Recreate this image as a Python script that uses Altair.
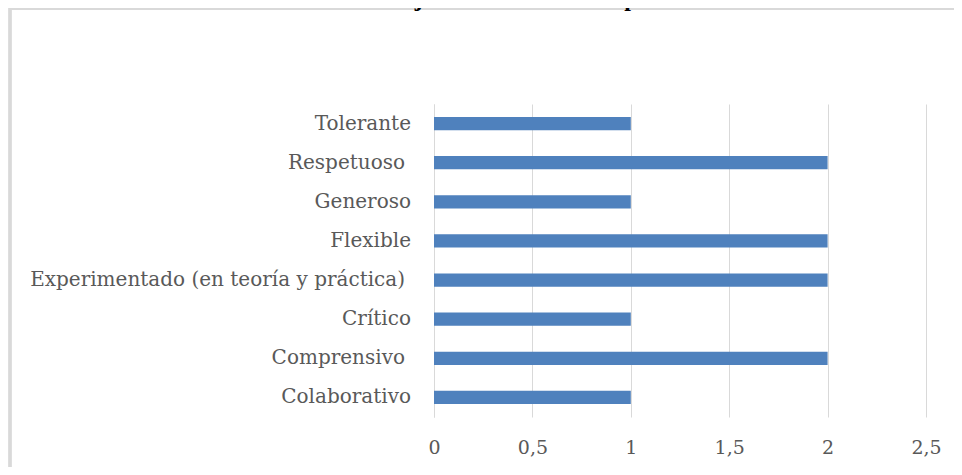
import altair as alt
import pandas as pd

categories = [
    "Tolerante",
    "Respetuoso ",
    "Generoso",
    "Flexible",
    "Experimentado (en teoría y práctica) ",
    "Crítico",
    "Comprensivo ",
    "Colaborativo",
]
values = [1, 2, 1, 2, 2, 1, 2, 1]
x_ticks = [0, 0.5, 1, 1.5, 2, 2.5]
title_text = "Gráfica 2. Adjetivos identificados por SBT"

df = pd.DataFrame({"adjetivo": categories, "valor": values})

label_font = "DejaVu Serif"
grey = "#d9d9d9"
text_grey = "#595959"

y_enc = alt.Y(
    "adjetivo:N",
    sort=categories,
    scale=alt.Scale(paddingInner=0.66, paddingOuter=0.33),
    axis=alt.Axis(
        title=None,
        domain=True,
        domainColor=grey,
        domainWidth=1,
        ticks=False,
        grid=False,
        labels=False,
    ),
)

bars = alt.Chart(df).mark_bar(color="#4f81bd").encode(
    x=alt.X(
        "valor:Q",
        scale=alt.Scale(domain=[0, 2.5], nice=False),
        axis=alt.Axis(
            values=x_ticks,
            title=None,
            grid=True,
            gridColor=grey,
            gridWidth=1,
            domain=False,
            ticks=False,
            labelFont=label_font,
            labelFontSize=19,
            labelColor=text_grey,
            labelPadding=21,
            labelFlush=False,
            labelExpr="replace(format(datum.value, '~g'), '.', ',')",
        ),
    ),
    y=y_enc,
)

trailing = "lastindexof(datum.adjetivo, ' ') == length(datum.adjetivo) - 1"


def label_layer(test, xpos):
    return (
        alt.Chart(df)
        .transform_filter(test)
        .mark_text(
            font=label_font,
            fontSize=20,
            color=text_grey,
            align="right",
            baseline="middle",
        )
        .encode(
            y=alt.Y("adjetivo:N", sort=categories),
            x=alt.value(xpos),
            text="adjetivo:N",
        )
    )


labels_plain = label_layer("!(" + trailing + ")", -23)
labels_space = label_layer(trailing, -29)

box = alt.Chart(df).mark_rect(
    fill="transparent", stroke=grey, strokeWidth=2.5
).encode(
    x=alt.value(-424),
    x2=alt.value(560),
    y=alt.value(-95.5),
    y2=alt.value(420),
)

title = alt.Chart(pd.DataFrame({"t": [title_text]})).mark_text(
    font="Liberation Serif",
    fontSize=24,
    fontWeight="bold",
    color="black",
    align="center",
    baseline="alphabetic",
).encode(
    x=alt.value(60),
    y=alt.value(-98),
    text="t:N",
)

chart = (
    alt.layer(box, title, bars, labels_plain, labels_space)
    .properties(
        width=492,
        height=313,
        padding={"left": 426, "top": 96, "right": 28, "bottom": 50},
        autosize=alt.AutoSizeParams(type="none"),
        background="white",
    )
    .configure_view(strokeWidth=0)
)

chart.save("out.html", embed_options={"renderer": "svg", "actions": False})
